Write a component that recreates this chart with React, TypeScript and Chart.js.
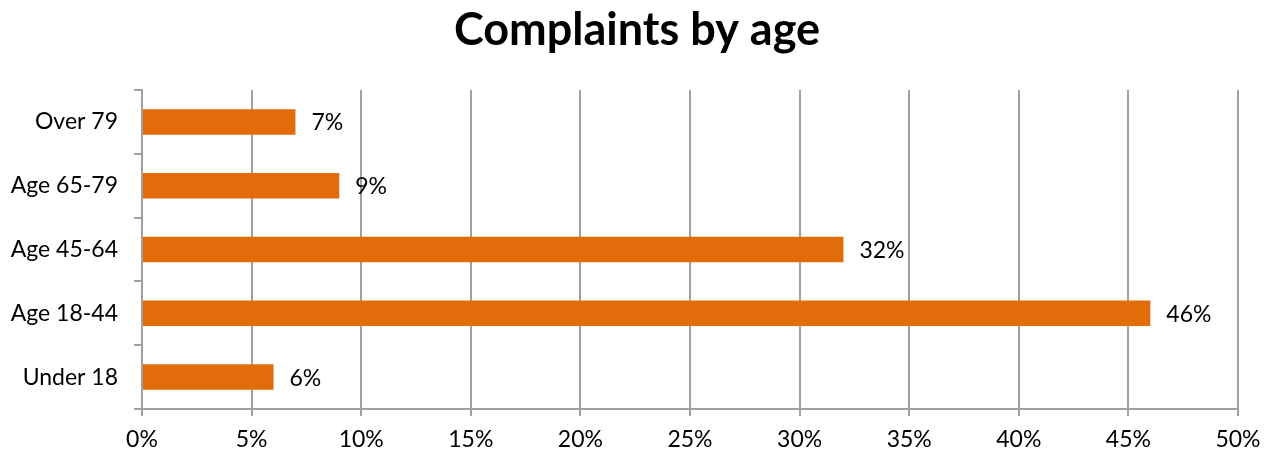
import React, { useEffect, useRef } from "react";
import { Chart, registerables } from "chart.js";

Chart.register(...registerables);

const categories = ["Over 79", "Age 65-79", "Age 45-64", "Age 18-44", "Under 18"];
const values = [7, 9, 32, 46, 6];
const xTicks = [0, 5, 10, 15, 20, 25, 30, 35, 40, 45, 50];
const title = "Complaints by age";

const FONT = "Lato, 'Open Sans', sans-serif";
const BAR = "#E36C0A";
const GRID = "#A0A0A0";

const labelPlugin = {
  id: "barLabels",
  afterDatasetsDraw(chart: any) {
    const ctx = chart.ctx;
    const meta = chart.getDatasetMeta(0);
    ctx.save();
    ctx.font = `23px ${FONT}`;
    ctx.fillStyle = "#000";
    ctx.textAlign = "left";
    ctx.textBaseline = "middle";
    meta.data.forEach((el: any, i: number) => {
      ctx.fillText(`${values[i]}%`, el.x + 16, el.y + 1);
    });
    ctx.restore();
  },
};

export default function App() {
  const ref = useRef<HTMLCanvasElement>(null);
  useEffect(() => {
    if (!ref.current) return;
    const chart = new Chart(ref.current, {
      type: "bar",
      data: {
        labels: categories,
        datasets: [
          {
            data: values,
            backgroundColor: BAR,
            borderWidth: 0,
            categoryPercentage: 1,
            barPercentage: 0.4,
          },
        ],
      },
      options: {
        indexAxis: "y",
        animation: false,
        responsive: false,
        layout: { padding: { top: 0, right: 0, bottom: 0, left: 0 } },
        plugins: {
          legend: { display: false },
          tooltip: { enabled: false },
          title: {
            display: true,
            text: title,
            font: { family: FONT, size: 45, weight: "bold" },
            color: "#000",
            padding: { top: 3, bottom: 33 },
          },
        },
        scales: {
          x: {
            type: "linear",
            min: 0,
            max: 50,
            afterBuildTicks(scale: any) {
              scale.ticks = xTicks.map((v) => ({ value: v }));
            },
            afterFit(scale: any) {
              scale.height = 50;
            },
            ticks: {
              font: { family: FONT, size: 23 },
              color: "#000",
              padding: 10,
              callback: (v: any) => `${v}%`,
              maxRotation: 0,
            },
            grid: {
              color: GRID,
              lineWidth: 2,
              tickLength: 7,
              drawTicks: true,
            },
            border: { color: GRID, width: 2 },
          },
          y: {
            type: "category",
            afterFit(scale: any) {
              scale.width = 142;
            },
            ticks: {
              font: { family: FONT, size: 23 },
              color: "#000",
              padding: 16,
            },
            grid: {
              drawOnChartArea: false,
              drawTicks: true,
              tickLength: 8,
              color: GRID,
              lineWidth: 2,
              offset: true,
            },
            border: { color: GRID, width: 2 },
          },
          yRight: {
            type: "category",
            position: "right",
            labels: categories,
            afterFit(scale: any) {
              scale.width = 36;
            },
            ticks: { display: false },
            grid: { display: false, drawTicks: false },
            border: { display: false },
          },
        },
      },
      plugins: [labelPlugin],
    });
    return () => chart.destroy();
  }, []);
  return (
    <div style={{ position: "fixed", left: 0, top: 0, width: 1274, height: 459, background: "#fff" }}>
      <canvas ref={ref} width={1274} height={459} style={{ display: "block" }} />
    </div>
  );
}
